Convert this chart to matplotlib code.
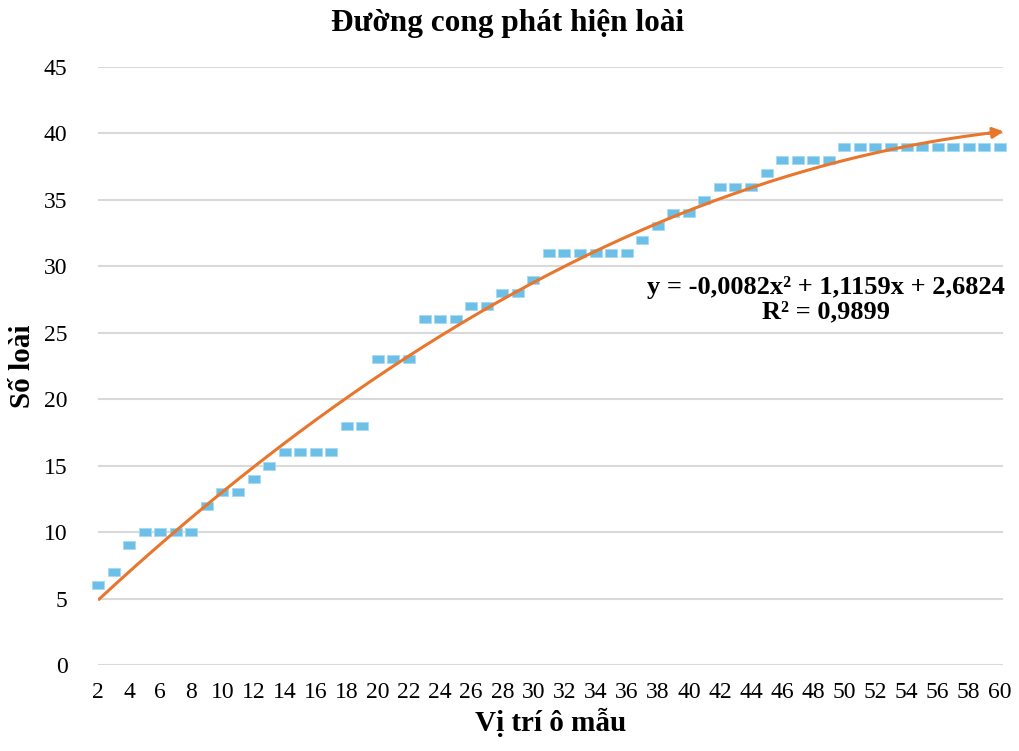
import numpy as np
import matplotlib.pyplot as plt
from matplotlib.path import Path

plt.rcParams['font.family'] = ['Liberation Serif', 'DejaVu Serif']

# Sample plot positions and cumulative species counts
positions = list(range(2, 61))
species = [6, 7, 9, 10, 10, 10, 10, 12, 13, 13, 14, 15, 16, 16, 16, 16, 18, 18,
           23, 23, 23, 26, 26, 26, 27, 27, 28, 28, 29, 31, 31, 31, 31, 31, 31,
           32, 33, 34, 34, 35, 36, 36, 36, 37, 38, 38, 38, 38,
           39, 39, 39, 39, 39, 39, 39, 39, 39, 39, 39]

# Polynomial trendline coefficients as printed on the chart
coef = [-0.0082, 1.1159, 2.6824]
r2 = 0.9899

x_ticks = list(range(2, 61, 2))
y_ticks = list(range(0, 46, 5))

fig = plt.figure(figsize=(10.19, 7.51), dpi=100)
ax = fig.add_axes([0.0962, 0.1145, 0.888, 0.7963])

# wide rectangular marker like the Excel one
rect = Path([(-1, -0.72), (1, -0.72), (1, 0.72), (-1, 0.72), (-1, -0.72)],
            [Path.MOVETO, Path.LINETO, Path.LINETO, Path.LINETO, Path.CLOSEPOLY])
ax.plot(positions, species, linestyle='none', marker=rect, markersize=8.3,
        markerfacecolor='#6cc0e8', markeredgecolor='#a6daf3', markeredgewidth=0.6,
        clip_on=False, zorder=3)

xs = np.linspace(positions[0], positions[-1], 200)
ys = np.polyval(coef, xs)
ax.plot(xs, ys, color='#e8762d', linewidth=2.2, zorder=4, solid_capstyle='butt')
ax.annotate('', xy=(60.25, np.polyval(coef, 60.25)), xytext=(59.3, np.polyval(coef, 59.3)),
            arrowprops=dict(arrowstyle='-|>', color='#e8762d', lw=2.2,
                            mutation_scale=16, shrinkA=0, shrinkB=0),
            annotation_clip=False, zorder=5)

ax.set_xlim(2, 60.2)
ax.set_ylim(0, 45)
ax.set_xticks(x_ticks)
ax.set_yticks(y_ticks)
ax.tick_params(axis='both', length=0, labelsize=17)
ax.tick_params(axis='y', pad=22)
ax.tick_params(axis='x', pad=12)
ax.grid(axis='y', color='#d9d9d9', linewidth=1.5)
ax.set_axisbelow(True)
for s in ax.spines.values():
    s.set_visible(False)

fig.text(0.4985, 0.969, 'Đường cong phát hiện loài', ha='center', va='center',
         fontsize=22.5, fontweight='bold')
ax.set_xlabel('Vị trí ô mẫu', fontsize=21, fontweight='bold', labelpad=4)
ax.set_ylabel('Số loài', fontsize=21, fontweight='bold', labelpad=6)

eq = 'y = {:.4f}x² + {:.4f}x + {:.4f}'.format(*coef).replace('.', ',')
ax.text(1.002, 0.611, eq + '\n' + 'R² = {:.4f}'.format(r2).replace('.', ','),
        transform=ax.transAxes, ha='right', va='center', multialignment='center',
        fontsize=19, fontweight='bold', linespacing=1.05)

fig.savefig('out.png', dpi=100)
